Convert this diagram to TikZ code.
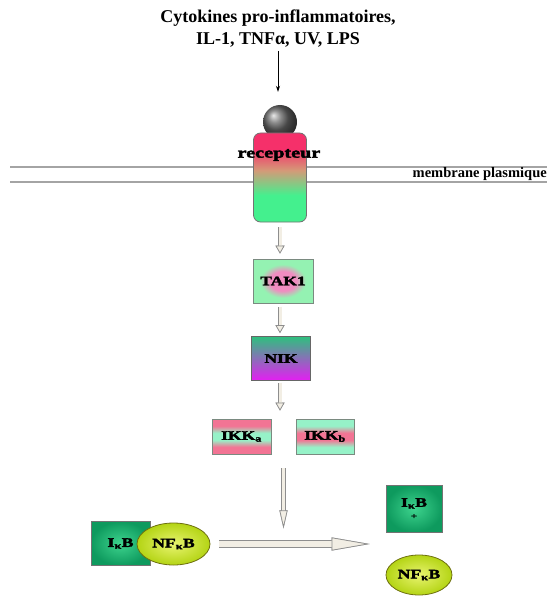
\documentclass[tikz,border=0pt]{standalone}
\usepackage{fontspec}
\setmainfont{Liberation Serif}
\newfontfamily\noir[FakeBold=2.6,FakeStretch=1.35]{Liberation Serif}
\usepackage{tikz}
\usetikzlibrary{arrows.meta,shapes.geometric,calc}
% 颜色
\definecolor{rougerec}{HTML}{F5306A}
\definecolor{brunrec}{HTML}{D49A78}
\definecolor{vertrec}{HTML}{44F08E}
\definecolor{menthe}{HTML}{94F2B2}
\definecolor{rose}{HTML}{F08CC0}
\definecolor{vertnik}{HTML}{2EC07E}
\definecolor{magentanik}{HTML}{E41EF2}
\definecolor{roseikk}{HTML}{F27494}
\definecolor{mentheikk}{HTML}{96F2C8}
\definecolor{vertfonce}{HTML}{0E9A5E}
\definecolor{vertclair}{HTML}{3ED48E}
\definecolor{jaunevert}{HTML}{B4D414}
\definecolor{jauneclair}{HTML}{E8F470}
\definecolor{olive}{HTML}{6E7010}
\definecolor{beige}{HTML}{F2EEE4}
\definecolor{grisfl}{HTML}{8E8E8E}
\definecolor{grismb}{HTML}{A4A4A4}
\definecolor{bordure}{HTML}{7A8A80}
% 渐变
\pgfdeclareverticalshading{rec}{100bp}{color(0bp)=(vertrec); color(40bp)=(vertrec); color(54bp)=(brunrec); color(66bp)=(rougerec); color(100bp)=(rougerec)}
\pgfdeclareradialshading{tak}{\pgfpoint{0bp}{0bp}}{color(0bp)=(rose); color(11bp)=(rose); color(19bp)=(menthe); color(50bp)=(menthe)}
\pgfdeclareverticalshading{ikka}{100bp}{color(0bp)=(roseikk); color(35bp)=(roseikk); color(45bp)=(mentheikk); color(55bp)=(mentheikk); color(65bp)=(roseikk); color(100bp)=(roseikk)}
\pgfdeclareverticalshading{ikkb}{100bp}{color(0bp)=(mentheikk); color(35bp)=(mentheikk); color(45bp)=(roseikk); color(55bp)=(roseikk); color(65bp)=(mentheikk); color(100bp)=(mentheikk)}
\tikzset{
  titre/.style={align=center, inner sep=0pt, font=\bfseries\fontsize{18}{22}\selectfont},
  boule/.style={circle, ball color=black!60, minimum size=34pt, inner sep=0pt},
  recept/.style={draw=black!55, line width=0.8pt, rounded corners=7pt, shading=rec, minimum width=53pt, minimum height=89pt, inner sep=0pt},
  membrane/.style={draw=grismb, line width=1.6pt},
  boite/.style={draw=bordure, line width=0.8pt, minimum width=59pt, minimum height=44pt, inner sep=0pt, font=\noir\bfseries\fontsize{13}{15}\selectfont},
  ikb/.style={boite, draw=black!55, inner color=vertclair, outer color=vertfonce},
  nfkb/.style={ellipse, draw=olive, line width=0.8pt, inner color=jauneclair, outer color=jaunevert, inner sep=0pt, font=\noir\bfseries\fontsize{13}{15}\selectfont},
  creuse/.style args={#1/#2/#3}{draw=beige, line width=#1,
    -{Triangle[length=#2,width=#3,line width=0.7pt,fill=beige,color=grisfl]},
    preaction={draw=grisfl, line width=#1+1.4pt, -{Triangle[length=#2,width=#3,line width=0.7pt,fill=beige,color=grisfl]}}}
}
\begin{document}
\begin{tikzpicture}[x=1pt,y=-1pt]
\useasboundingbox (0,0) rectangle (547,596);
% 刺激信号
\node[titre] (cyto) at (278,29) {Cytokines pro-inflammatoires,\\IL-1, TNFα, UV, LPS};
% 膜的两条线 和 标注
\draw[membrane] (10,167) -- (547,167);
\draw[membrane] (10,182) -- (547,182);
\node[anchor=east, inner sep=0pt, font=\bfseries\fontsize{14.5}{16}\selectfont] (mp) at (547,174.5) {membrane plasmique};
% 受体 (球 + 圆角矩形)
\node[boule] (boule) at (280,122) {};
\node[recept] (rec) at (280,177.5) {};
\node[inner sep=0pt, font=\noir\bfseries\fontsize{15}{17}\selectfont] (lrec) at (279,155) {recepteur};
\draw[-{Stealth[length=6pt,width=4pt]}, line width=0.8pt] ([yshift=-3pt]cyto.south) -- ([yshift=13pt]boule.north -| cyto.south);
% 激酶
\node[boite, shading=tak, minimum width=60pt] (tak) at (283,281) {TAK1};
\node[boite, top color=vertnik, bottom color=magentanik, draw=black!60] (nik) at (281,358.5) {NIK};
\node[boite, shading=ikka, minimum height=35pt] (ikka) at (241.5,436.5) {IKK\textsubscript{a}};
\node[boite, shading=ikkb, minimum height=35pt, minimum width=58pt] (ikkb) at (325,436.5) {IKK\textsubscript{b}};
% 空心箭头
\draw[creuse={3pt/8pt/9pt}, shorten <=5pt, shorten >=5pt] (rec.south) -- (rec.south |- tak.north);
\draw[creuse={3pt/8pt/9pt}, shorten <=3.5pt, shorten >=3pt] (rec.south |- tak.south) -- (rec.south |- nik.north);
\draw[creuse={3pt/8pt/9pt}, shorten <=2pt, shorten >=8pt] (rec.south |- nik.south) -- (rec.south |- ikka.north);
% IκB / NFκB 复合物
\node[ikb] (ikbg) at (120.5,543.5) {I\textsubscript{κ}B};
\node[nfkb, minimum width=73pt, minimum height=42pt] (nfkbg) at (173.5,544) {NF\textsubscript{κ}B};
% 解离后的 IκB 和 NFκB
\node[ikb, minimum width=56pt, minimum height=47pt, align=center] (ikbd) at (414,508.5) {I\textsubscript{κ}B\\[-3pt]{\fontsize{8}{8}\selectfont +}};
\node[nfkb, minimum width=66pt, minimum height=40pt] (nfkbd) at (419,575) {NF\textsubscript{κ}B};
% 长箭头
\coordinate (entre) at ($(ikka.south east)!0.5!(ikkb.south west)$);
\coordinate (fin) at ([yshift=-74pt]entre);
\draw[creuse={3pt/18pt/8pt}] ([yshift=-14pt]entre) -- (fin);
\draw[creuse={6.5pt/38pt/13pt}, shorten <=9pt, shorten >=16pt] (nfkbg.east) -- (nfkbg.east -| ikbd.west);
\end{tikzpicture}
\end{document}
